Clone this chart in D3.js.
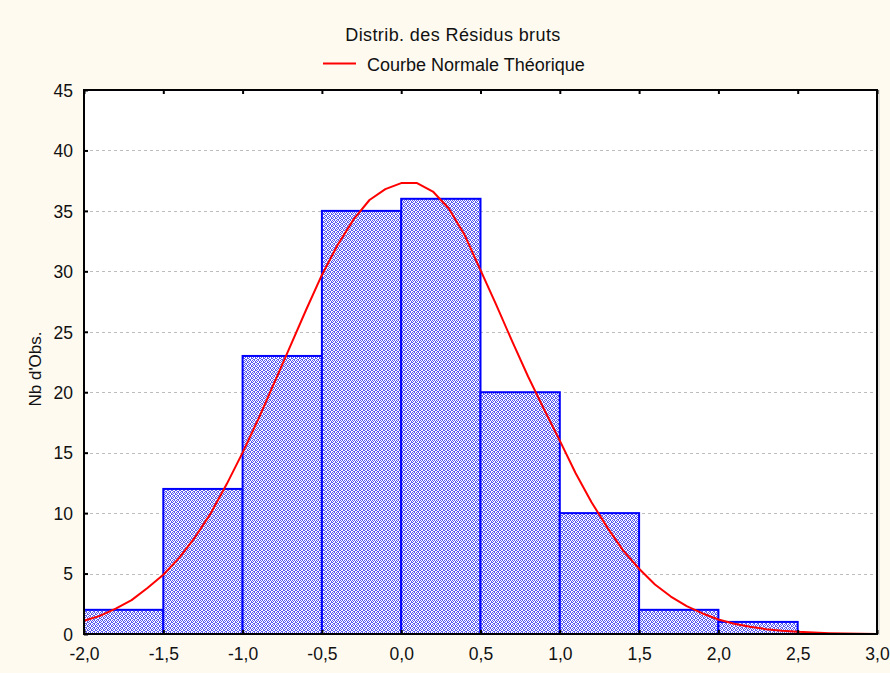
<!DOCTYPE html>
<html>
<head>
<meta charset="utf-8">
<script src="https://cdn.jsdelivr.net/npm/d3@7"></script>
<style>
  html, body { margin: 0; padding: 0; background: #fefaf0; }
  svg { display: block; }
  text { font-family: "Liberation Sans", Arial, sans-serif; fill: #111; }
</style>
</head>
<body>
<svg id="chart" width="890" height="673"></svg>
<script>
// Histogram of raw residuals: bin edges and observed counts
const binStarts = [-2.0, -1.5, -1.0, -0.5, 0.0, 0.5, 1.0, 1.5, 2.0, 2.5];
const binWidth = 0.5;
const counts = [2, 12, 23, 35, 36, 20, 10, 2, 1, 0];

// Fitted normal curve, sampled points (x, expected count)
const curveX = [-2.0, -1.9, -1.8, -1.7, -1.6, -1.5, -1.4, -1.3, -1.2, -1.1,
                -1.0, -0.9, -0.8, -0.7, -0.6, -0.5, -0.4, -0.3, -0.2, -0.1,
                 0.0,  0.1,  0.2,  0.3,  0.4,  0.5,  0.6,  0.7,  0.8,  0.9,
                 1.0,  1.1,  1.2,  1.3,  1.4,  1.5,  1.6,  1.7,  1.8,  1.9,
                 2.0,  2.1,  2.2,  2.3,  2.4,  2.5,  2.6,  2.7,  2.8,  2.9, 3.0];
const curveY = [1.1, 1.5, 2.1, 2.8, 3.8, 4.9, 6.3, 8.0, 10.0, 12.4,
                15.0, 17.8, 20.8, 23.8, 26.8, 29.7, 32.2, 34.3, 35.9, 36.8,
                37.3, 37.3, 36.6, 35.2, 33.0, 30.1, 27.2, 24.2, 21.3, 18.6,
                16.0, 13.3, 10.9, 8.8, 6.9, 5.4, 4.1, 3.1, 2.3, 1.7,
                1.2, 0.85, 0.6, 0.4, 0.27, 0.18, 0.12, 0.07, 0.04, 0.02, 0.01];

const xTicks = [-2.0, -1.5, -1.0, -0.5, 0.0, 0.5, 1.0, 1.5, 2.0, 2.5, 3.0];
const yTicks = [0, 5, 10, 15, 20, 25, 30, 35, 40, 45];

const title = "Distrib. des Résidus bruts";
const legendLabel = "Courbe Normale Théorique";
const yLabel = "Nb d'Obs.";

const FONT = "Liberation Sans, Arial, sans-serif";
const svg = d3.select("#chart");
const plot = { left: 84, right: 877, top: 90, bottom: 634 };

const x = d3.scaleLinear().domain([-2, 3]).range([plot.left, plot.right]);
const y = d3.scaleLinear().domain([0, 45]).range([plot.bottom, plot.top]);

// Dithered blue fill for the bars
const defs = svg.append("defs");
const pat = defs.append("pattern")
  .attr("id", "dither")
  .attr("patternUnits", "userSpaceOnUse")
  .attr("width", 4).attr("height", 4);
pat.append("rect").attr("width", 4).attr("height", 4).attr("fill", "#ffffff");
[[0,0],[2,0],[1,1],[3,1],[0,2],[3,2],[1,3],[2,3]].forEach(([px, py]) => {
  pat.append("rect").attr("x", px).attr("y", py).attr("width", 1).attr("height", 1)
    .attr("fill", "#5858f2");
});

// Plot background
svg.append("rect")
  .attr("x", plot.left).attr("y", plot.top)
  .attr("width", plot.right - plot.left).attr("height", plot.bottom - plot.top)
  .attr("fill", "#ffffff");

// Shadow line on right of the frame
svg.append("line")
  .attr("x1", plot.right + 2).attr("x2", plot.right + 2)
  .attr("y1", plot.top).attr("y2", plot.bottom + 1)
  .attr("stroke", "#c8c8c8").attr("stroke-width", 1);

// Horizontal grid
svg.append("g").selectAll("line")
  .data(yTicks.filter(t => t > 0 && t < 45))
  .join("line")
  .attr("x1", plot.left).attr("x2", plot.right)
  .attr("y1", d => Math.round(y(d)) + 0.5).attr("y2", d => Math.round(y(d)) + 0.5)
  .attr("stroke", "#bdbdbd").attr("stroke-width", 1)
  .attr("stroke-dasharray", "3,3");

// Bars
const bins = binStarts.map((s, i) => ({ x0: s, x1: s + binWidth, n: counts[i] }))
  .filter(d => d.n > 0);
svg.append("g").selectAll("rect")
  .data(bins)
  .join("rect")
  .attr("x", d => x(d.x0))
  .attr("y", d => y(d.n))
  .attr("width", d => x(d.x1) - x(d.x0))
  .attr("height", d => y(0) - y(d.n))
  .attr("fill", "url(#dither)")
  .attr("stroke", "#0000ff")
  .attr("stroke-width", 2);

// Normal curve
const line = d3.line().x(d => x(d[0])).y(d => y(d[1]));
svg.append("path")
  .datum(curveX.map((v, i) => [v, curveY[i]]))
  .attr("d", line)
  .attr("fill", "none")
  .attr("stroke", "#ff0000")
  .attr("stroke-width", 2)
  .attr("stroke-linejoin", "round");

// Axes (ticks pointing inward)
const yAxis = d3.axisLeft(y).tickValues(yTicks).tickSize(-4).tickPadding(11)
  .tickFormat(d3.format("d"));
const gy = svg.append("g").attr("transform", `translate(${plot.left},0)`).call(yAxis);
gy.select(".domain").remove();
gy.selectAll(".tick line").attr("stroke", "#000").attr("stroke-width", 2);
gy.selectAll(".tick text").attr("font-size", 17.5).attr("fill", "#111")
  .attr("font-family", FONT).attr("x", -11).attr("dy", "0.36em");

const fmtX = d => d3.format(".1f")(d).replace(".", ",").replace("−", "-");
const xAxis = d3.axisBottom(x).tickValues(xTicks).tickSize(-4)
  .tickFormat(fmtX);
const gx = svg.append("g").attr("transform", `translate(0,${plot.bottom})`).call(xAxis);
gx.select(".domain").remove();
gx.selectAll(".tick line").attr("stroke", "#000").attr("stroke-width", 2);
gx.selectAll(".tick text").attr("font-size", 17.5).attr("fill", "#111")
  .attr("font-family", FONT).attr("y", 26).attr("dy", null);

const xTop = d3.axisTop(x).tickValues(xTicks).tickSize(-4).tickFormat("");
const gxt = svg.append("g").attr("transform", `translate(0,${plot.top})`).call(xTop);
gxt.select(".domain").remove();
gxt.selectAll(".tick line").attr("stroke", "#000").attr("stroke-width", 2);

// Frame
svg.append("rect")
  .attr("x", plot.left).attr("y", plot.top)
  .attr("width", plot.right - plot.left).attr("height", plot.bottom - plot.top)
  .attr("fill", "none").attr("stroke", "#000").attr("stroke-width", 2);

// Title and legend
svg.append("text")
  .attr("x", 453).attr("y", 41)
  .attr("text-anchor", "middle").attr("font-size", 18)
  .attr("letter-spacing", 0.4)
  .text(title);

svg.append("line")
  .attr("x1", 323).attr("x2", 356).attr("y1", 63.5).attr("y2", 63.5)
  .attr("stroke", "#ff0000").attr("stroke-width", 2);
svg.append("text")
  .attr("x", 367).attr("y", 71)
  .attr("font-size", 18)
  .text(legendLabel);

// Y label
svg.append("text")
  .attr("transform", `translate(41,${(plot.top + plot.bottom) / 2 + 7}) rotate(-90)`)
  .attr("text-anchor", "middle").attr("font-size", 17)
  .text(yLabel);
</script>
</body>
</html>
